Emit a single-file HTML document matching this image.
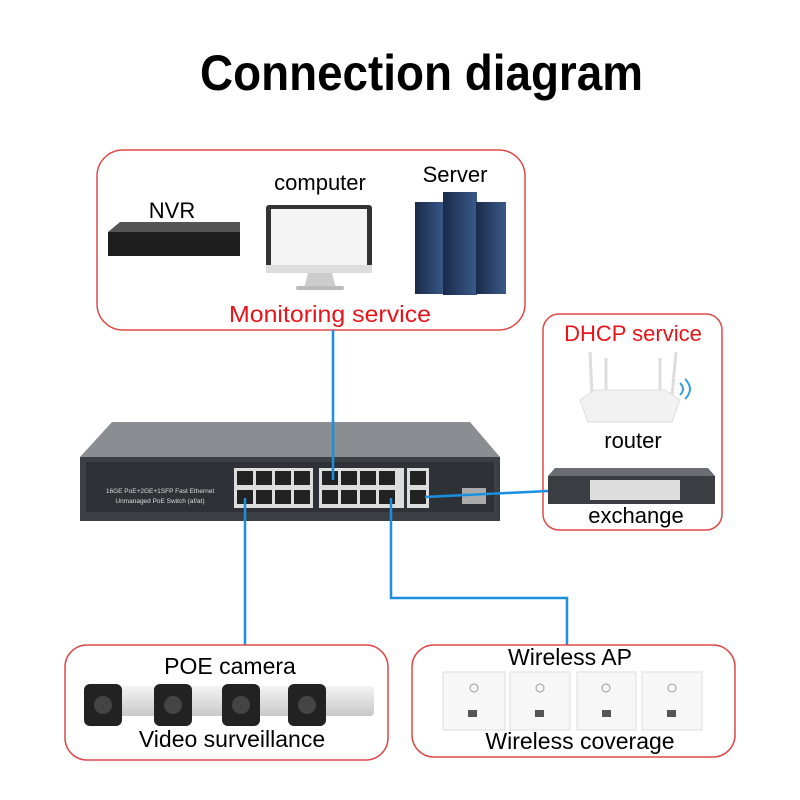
<!DOCTYPE html>
<html><head><meta charset="utf-8"><style>body{margin:0;background:#fff}svg{display:block}text{font-family:"Liberation Sans",sans-serif}</style></head><body>
<svg width="800" height="800" viewBox="0 0 800 800" xmlns="http://www.w3.org/2000/svg">
<defs>
<linearGradient id="srv" x1="0" x2="1"><stop offset="0" stop-color="#1a2a4a"/><stop offset="1" stop-color="#3a5a8a"/></linearGradient>
<linearGradient id="cam" x1="0" y1="0" x2="0" y2="1"><stop offset="0" stop-color="#f4f4f4"/><stop offset="1" stop-color="#c8c8c8"/></linearGradient>
</defs>
<text x="200" y="90" font-size="50" font-weight="bold" textLength="443" lengthAdjust="spacingAndGlyphs" fill="#000">Connection diagram</text>

<!-- top box -->
<rect x="97" y="150" width="428" height="180" rx="26" fill="none" stroke="#e04848" stroke-width="1.5"/>
<text x="172" y="218" font-size="22" text-anchor="middle">NVR</text>
<polygon points="108,232 120,222 240,222 240,232" fill="#555"/>
<rect x="108" y="232" width="132" height="24" fill="#1e1e1e"/>
<text x="320" y="190" font-size="22" text-anchor="middle">computer</text>
<rect x="266" y="205" width="106" height="66" rx="3" fill="#333"/>
<rect x="271" y="209" width="96" height="56" fill="#f4f4f4"/>
<rect x="266" y="265" width="106" height="8" fill="#ddd"/>
<polygon points="308,273 332,273 336,288 304,288" fill="#ccc"/>
<rect x="296" y="286" width="48" height="4" rx="2" fill="#bbb"/>
<text x="455" y="182" font-size="22" text-anchor="middle">Server</text>
<rect x="415" y="202" width="30" height="92" fill="url(#srv)"/>
<rect x="443" y="192" width="34" height="103" fill="url(#srv)"/>
<rect x="476" y="202" width="30" height="92" fill="url(#srv)"/>
<text x="330" y="322" font-size="23" fill="#e8141a" text-anchor="middle" textLength="202" lengthAdjust="spacingAndGlyphs">Monitoring service</text>

<!-- DHCP box -->
<rect x="543" y="314" width="179" height="216" rx="16" fill="none" stroke="#e04848" stroke-width="1.5"/>
<text x="633" y="341" font-size="22" fill="#e8141a" text-anchor="middle">DHCP service</text>
<g stroke="#ddd" stroke-width="3"><line x1="592" y1="395" x2="590" y2="352"/><line x1="606" y1="392" x2="606" y2="358"/><line x1="660" y1="392" x2="660" y2="358"/><line x1="672" y1="395" x2="676" y2="352"/></g>
<polygon points="580,400 595,390 665,390 680,400 672,422 588,422" fill="#f2f2f2" stroke="#ddd"/>
<path d="M680 383 q6 6 0 12 M685 379 q10 10 0 20" stroke="#3aa0e0" stroke-width="2" fill="none"/>
<text x="633" y="448" font-size="22" text-anchor="middle">router</text>
<polygon points="555,468 708,468 715,476 548,476" fill="#6a6d72"/>
<rect x="548" y="476" width="167" height="28" fill="#3a3d42"/>
<rect x="590" y="480" width="90" height="20" fill="#ddd"/>
<text x="636" y="523" font-size="22" text-anchor="middle">exchange</text>

<!-- main switch -->
<polygon points="112,422 470,422 500,457 80,457" fill="#8a8d92"/>
<rect x="80" y="457" width="420" height="64" fill="#3c3f44"/>
<rect x="86" y="462" width="408" height="50" fill="#2e3136"/>
<text x="160" y="493" font-size="6.5" fill="#ddd" text-anchor="middle">16GE PoE+2GE+1SFP Fast Ethernet</text>
<text x="160" y="503" font-size="6.5" fill="#ddd" text-anchor="middle">Unmanaged PoE Switch (af/at)</text>
<rect x="234" y="468" width="170" height="40" fill="#ddd"/>
<rect x="407" y="468" width="22" height="40" fill="#ddd"/>
<g fill="#222">
<rect x="237" y="471" width="16" height="14"/><rect x="256" y="471" width="16" height="14"/><rect x="275" y="471" width="16" height="14"/><rect x="294" y="471" width="16" height="14"/>
<rect x="237" y="490" width="16" height="14"/><rect x="256" y="490" width="16" height="14"/><rect x="275" y="490" width="16" height="14"/><rect x="294" y="490" width="16" height="14"/>
<rect x="322" y="471" width="16" height="14"/><rect x="341" y="471" width="16" height="14"/><rect x="360" y="471" width="16" height="14"/><rect x="379" y="471" width="16" height="14"/>
<rect x="322" y="490" width="16" height="14"/><rect x="341" y="490" width="16" height="14"/><rect x="360" y="490" width="16" height="14"/><rect x="379" y="490" width="16" height="14"/>
<rect x="410" y="471" width="16" height="14"/><rect x="410" y="490" width="16" height="14"/>
</g>
<rect x="313" y="468" width="6" height="40" fill="#2e3136"/>
<rect x="462" y="488" width="24" height="16" fill="#aaa"/>

<!-- connectors -->
<g stroke="#1a8fe0" stroke-width="2.5" fill="none">
<line x1="333" y1="330" x2="333" y2="480"/>
<line x1="245" y1="498" x2="245" y2="645"/>
<polyline points="391,498 391,598 567,598 567,645"/>
<line x1="425" y1="497" x2="548" y2="491"/>
</g>

<!-- bottom boxes -->
<rect x="65" y="645" width="323" height="115" rx="22" fill="none" stroke="#e04848" stroke-width="1.5"/>
<rect x="412" y="645" width="323" height="112" rx="22" fill="none" stroke="#e04848" stroke-width="1.5"/>
<text x="230" y="674" font-size="23" text-anchor="middle">POE camera</text>
<g>
<rect x="100" y="686" width="58" height="30" rx="4" fill="url(#cam)"/><rect x="84" y="684" width="38" height="42" rx="6" fill="#222"/><circle cx="103" cy="705" r="9" fill="#444"/>
<rect x="170" y="686" width="58" height="30" rx="4" fill="url(#cam)"/><rect x="154" y="684" width="38" height="42" rx="6" fill="#222"/><circle cx="173" cy="705" r="9" fill="#444"/>
<rect x="238" y="686" width="58" height="30" rx="4" fill="url(#cam)"/><rect x="222" y="684" width="38" height="42" rx="6" fill="#222"/><circle cx="241" cy="705" r="9" fill="#444"/>
<rect x="306" y="686" width="68" height="30" rx="4" fill="url(#cam)"/><rect x="288" y="684" width="38" height="42" rx="6" fill="#222"/><circle cx="307" cy="705" r="9" fill="#444"/>
</g>
<text x="232" y="747" font-size="23" text-anchor="middle">Video surveillance</text>
<text x="570" y="665" font-size="23" text-anchor="middle">Wireless AP</text>
<g fill="#f7f7f7" stroke="#ddd">
<rect x="443" y="672" width="62" height="58"/><rect x="510" y="672" width="60" height="58"/><rect x="577" y="672" width="59" height="58"/><rect x="642" y="672" width="60" height="58"/>
</g>
<g fill="none" stroke="#999"><circle cx="474" cy="688" r="4"/><circle cx="540" cy="688" r="4"/><circle cx="606" cy="688" r="4"/><circle cx="672" cy="688" r="4"/></g>
<g fill="#555"><rect x="468" y="710" width="9" height="7"/><rect x="535" y="710" width="9" height="7"/><rect x="602" y="710" width="9" height="7"/><rect x="667" y="710" width="9" height="7"/></g>
<text x="580" y="749" font-size="23" text-anchor="middle">Wireless coverage</text>
</svg>
</body></html>
